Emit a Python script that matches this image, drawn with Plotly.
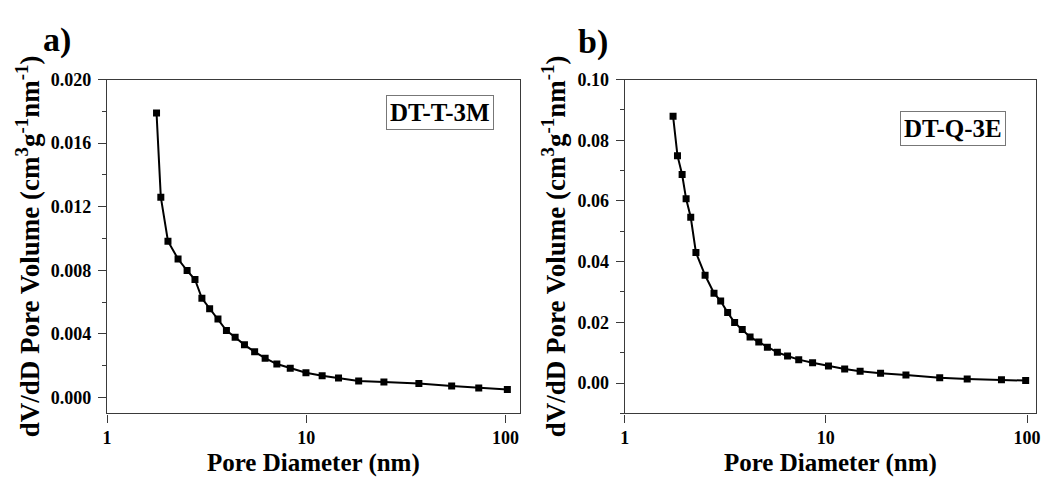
import plotly.graph_objects as go

# Panel a) DT-T-3M
dia_a = [1.77, 1.86, 2.02, 2.27, 2.52, 2.76, 2.99, 3.27, 3.60, 3.97, 4.39, 4.89, 5.50,
         6.21, 7.11, 8.30, 9.95, 12.0, 14.5, 18.3, 24.5, 36.7, 53.6, 73.3, 102.0]
vol_a = [0.01790, 0.01260, 0.00983, 0.00871, 0.00798, 0.00742, 0.00624, 0.00558, 0.00493,
         0.00421, 0.00379, 0.00331, 0.00287, 0.00247, 0.00210, 0.00184, 0.00155, 0.00137,
         0.00123, 0.00104, 0.00098, 0.00088, 0.00072, 0.00060, 0.00050]

# Panel b) DT-Q-3E
dia_b = [1.74, 1.83, 1.93, 2.02, 2.13, 2.26, 2.51, 2.78, 3.00, 3.25, 3.52, 3.84, 4.20,
         4.64, 5.12, 5.74, 6.45, 7.33, 8.59, 10.3, 12.4, 14.8, 18.7, 25.0, 36.8, 50.4,
         74.6, 98.4]
vol_b = [0.0879, 0.0749, 0.0687, 0.0607, 0.0546, 0.0430, 0.0355, 0.0296, 0.0270, 0.0232,
         0.0199, 0.0176, 0.0152, 0.0135, 0.0118, 0.0101, 0.0089, 0.0077, 0.0067, 0.0056,
         0.0046, 0.0039, 0.0032, 0.0026, 0.0017, 0.0013, 0.0011, 0.0008]

labels = ["DT-T-3M", "DT-Q-3E"]
panel_tags = ["a)", "b)"]
x_ticks = [1, 10, 100]
x_ticktext = ["1", "10", "100"]

FONT = "Liberation Serif"
W, H = 1055, 477
AX = "#3a3a3a"


def bfont(size):
    return dict(family=FONT, size=size, color="black", weight="bold")


fig = go.Figure()
fig.add_trace(go.Scatter(x=dia_a, y=vol_a, mode="lines+markers", name=labels[0],
                         line=dict(color="black", width=2),
                         marker=dict(symbol="square", size=7, color="black"),
                         xaxis="x", yaxis="y", showlegend=False))
fig.add_trace(go.Scatter(x=dia_b, y=vol_b, mode="lines+markers", name=labels[1],
                         line=dict(color="black", width=2),
                         marker=dict(symbol="square", size=7, color="black"),
                         xaxis="x2", yaxis="y2", showlegend=False))

ytitle = "dV/dD Pore Volume (cm<sup>3</sup>g<sup>-1</sup>nm<sup>-1</sup>)"

common_x = dict(type="log", tickvals=x_ticks, ticktext=x_ticktext, ticks="outside",
                ticklen=8, tickwidth=1.3, tickcolor=AX, showline=True, linecolor=AX,
                linewidth=1.3, mirror=True, showgrid=False, zeroline=False,
                tickfont=bfont(18),
                title=dict(text="Pore Diameter (nm)", standoff=6, font=bfont(25)))
common_y = dict(ticks="outside", ticklen=8, tickwidth=1.3, tickcolor=AX, showline=True,
                linecolor=AX, linewidth=1.3, mirror=True, showgrid=False, zeroline=False,
                tickfont=bfont(18), ticklabelstandoff=3,
                title=dict(text=ytitle, standoff=3, font=bfont(27)))

y0, y1 = 1 - 412 / H, 1 - 71 / H

fig.update_layout(
    width=W, height=H, margin=dict(l=0, r=0, t=0, b=0),
    paper_bgcolor="white", plot_bgcolor="white",
    font=dict(family=FONT, color="black"),
    xaxis=dict(domain=[103 / W, 519 / W], range=[0, 2.07], anchor="y", **common_x),
    yaxis=dict(domain=[y0, y1], range=[-0.001, 0.020], tick0=0, dtick=0.004,
               tickformat=".3f", anchor="x",
               minor=dict(ticks="outside", ticklen=4, dtick=0.002, tickcolor=AX, tickwidth=1.3),
               **common_y),
    xaxis2=dict(domain=[625 / W, 1040 / W], range=[0, 2.045], anchor="y2", **common_x),
    yaxis2=dict(domain=[y0, y1], range=[-0.01, 0.10], tick0=0, dtick=0.02,
                tickformat=".2f", anchor="x2",
                minor=dict(ticks="outside", ticklen=4, dtick=0.01, tickcolor=AX, tickwidth=1.3),
                **common_y),
)

# sample labels (boxed)
fig.add_annotation(text="<b>" + labels[0] + "</b>", xref="paper", yref="paper",
                   x=439 / W, y=1 - 105 / H, xanchor="center", yanchor="middle",
                   showarrow=False, font=bfont(25),
                   bordercolor="#777", borderwidth=1, borderpad=3, bgcolor="white")
fig.add_annotation(text="<b>" + labels[1] + "</b>", xref="paper", yref="paper",
                   x=956 / W, y=1 - 121 / H, xanchor="center", yanchor="middle",
                   showarrow=False, font=bfont(25),
                   bordercolor="#777", borderwidth=1, borderpad=3, bgcolor="white")

# panel tags
fig.add_annotation(text="<b>" + panel_tags[0] + "</b>", xref="paper", yref="paper",
                   x=36 / W, y=1 - 31 / H, xanchor="left", yanchor="middle",
                   showarrow=False, font=bfont(34))
fig.add_annotation(text="<b>" + panel_tags[1] + "</b>", xref="paper", yref="paper",
                   x=576 / W, y=1 - 33 / H, xanchor="left", yanchor="middle",
                   showarrow=False, font=bfont(34))

fig.write_html("out.html")
